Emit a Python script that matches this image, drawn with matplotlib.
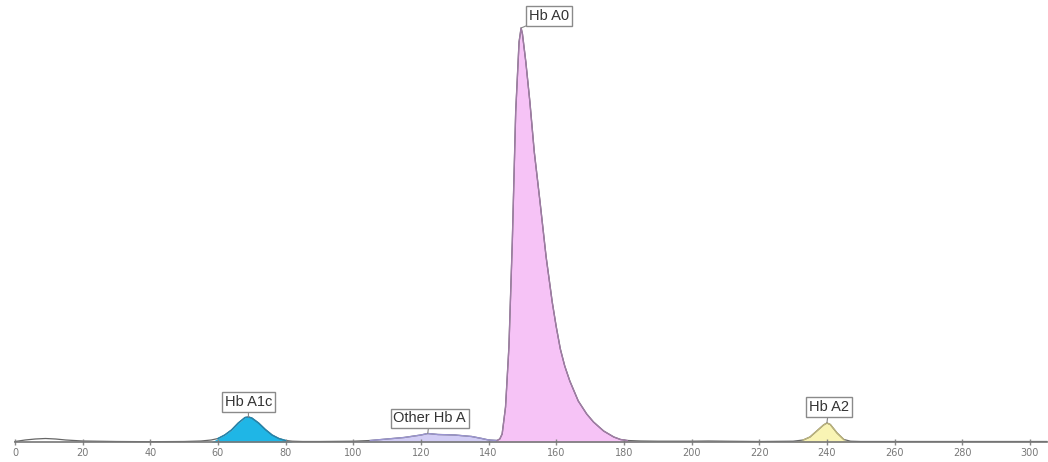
import numpy as np
import matplotlib.pyplot as plt

# chromatogram trace (time, signal)
t = [0, 3, 6, 9, 12, 15, 20, 30, 40, 50, 55, 58, 60, 62, 64, 66, 68, 69, 70,
     72, 74, 76, 78, 80, 82, 85, 90, 100, 105, 110, 115, 120, 122, 125, 130,
     135, 138, 140, 142.5, 143.3, 144, 145, 146, 147, 148, 149, 149.6, 150,
     151, 152.2, 153.5, 155.2, 157, 158.8, 160, 161.2, 162.5, 164, 166.5,
     169, 171, 174, 177, 179, 181, 185, 190, 200, 205, 210, 220, 230, 233,
     235, 237, 239, 240, 241, 243, 245, 247, 250, 260, 280, 300, 305]
sig = [0.5, 2, 3, 3.5, 3, 2, 1, 0.5, 0.3, 0.5, 1, 2, 3.5, 7, 12, 19, 24.5, 25,
       24, 19, 12.5, 7, 3.5, 1.5, 0.8, 0.5, 0.5, 0.8, 1.5, 3, 4.5, 7, 8.5,
       7.5, 7, 5.5, 3.5, 2, 1.5, 3, 8, 35, 95, 200, 330, 400, 414, 408, 380,
       340, 290, 240, 185, 140, 115, 93, 76, 61, 41, 28, 20, 11, 5, 2.5, 1.5,
       1, 0.8, 0.8, 1, 0.8, 0.5, 0.8, 2, 5, 11, 17, 19, 17.5, 9, 2.5, 0.8,
       0.5, 0.5, 0.5, 0.5, 0.5]

# peaks
names = ['Hb A1c', 'Other Hb A', 'Hb A0', 'Hb A2']
starts = [59, 104, 142.5, 233]
ends = [81, 142.5, 182, 246]
apex_t = [69, 122, 149.6, 240]
colors = ['#1fb6e6', '#d2cdf5', '#f6c3f6', '#f9f4b4']
edges = ['#1f86b0', '#9a94d0', '#a07ca6', '#bdb57a']
label_off = [(0, 15), (2, 15), (28, 12), (2, 16)]

ticks = list(range(0, 301, 20))

t = np.array(t)
sig = np.array(sig)

fig = plt.figure(figsize=(10.48, 4.62), dpi=100)
ax = fig.add_axes([0, 0, 1, 1])

for i in range(len(names)):
    m = (t >= starts[i]) & (t <= ends[i])
    ax.fill_between(t, 0, sig, where=m, color=colors[i], lw=0, interpolate=True)
    ax.plot(t[m], sig[m], color=edges[i], lw=1)

ax.plot(t, sig, color='#666666', lw=0.9, zorder=1)

for i in range(len(names)):
    h = np.interp(apex_t[i], t, sig)
    ax.annotate(names[i], xy=(apex_t[i], h), xytext=label_off[i],
                textcoords='offset pixels', ha='center', va='center',
                fontsize=10.5, family='Liberation Sans', color='#333333',
                bbox=dict(boxstyle='square,pad=0.18', fc='white', ec='#8a8a8a', lw=1),
                arrowprops=dict(arrowstyle='-', color='#888888', lw=0.8,
                                shrinkA=0, shrinkB=0))

ax.set_xlim(-15 / 3.383, (1048 - 15) / 3.383)
ax.set_ylim(-20, 442)

for s in ['top', 'right', 'left']:
    ax.spines[s].set_visible(False)
ax.spines['bottom'].set_position(('data', 0))
ax.spines['bottom'].set_color('#777777')
ax.spines['bottom'].set_linewidth(1.2)
ax.spines['bottom'].set_bounds(0, 305)
ax.set_yticks([])
ax.set_xticks(ticks)
ax.tick_params(axis='x', direction='inout', length=4, width=1, color='#888888',
               labelsize=7, labelcolor='#777777', pad=2)

fig.savefig('out.png', dpi=100)
